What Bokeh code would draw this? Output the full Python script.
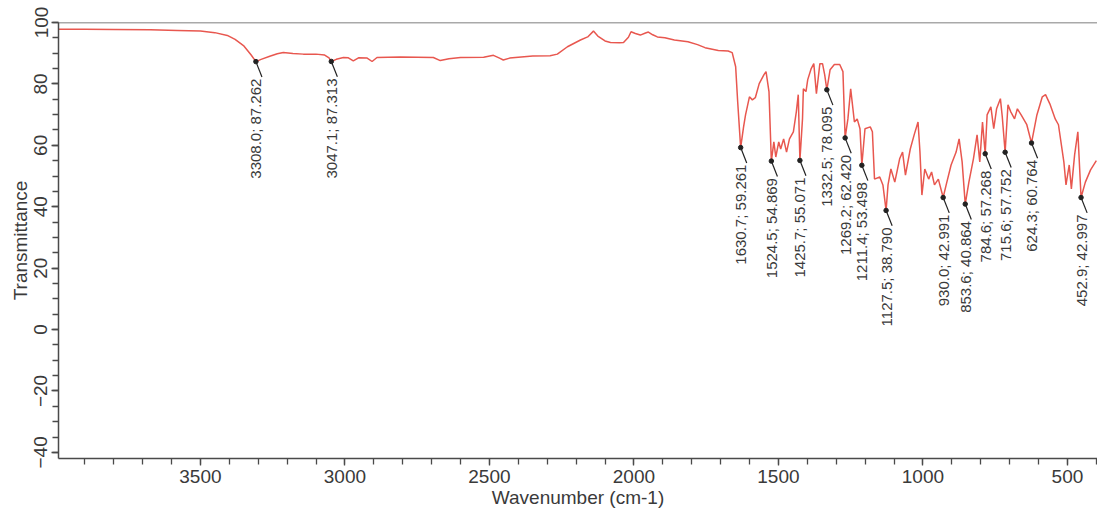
import numpy as np
from bokeh.plotting import figure
from bokeh.models import Range1d, FixedTicker, Span
from bokeh.embed import file_html
from bokeh.resources import INLINE
from bokeh.core.properties import value

# ---- spectrum (wavenumber in cm-1, transmittance in %) ----
wavenumber = [
    3990, 3900, 3800, 3673, 3580, 3500, 3450, 3407, 3380, 3351, 3325, 3308.0,
    3290, 3260, 3234, 3213, 3180, 3144, 3100, 3070, 3055, 3047.1, 3030, 3005,
    2988, 2971, 2953, 2923, 2906, 2889, 2850, 2808, 2750, 2694, 2670, 2640,
    2600, 2520, 2486, 2465, 2452, 2430, 2400, 2350, 2290, 2265, 2230, 2185,
    2160, 2140, 2125, 2100, 2081, 2050, 2036, 2019, 2010, 1995, 1978, 1960,
    1950, 1935, 1919, 1893, 1860, 1813, 1780, 1754, 1708, 1674, 1660, 1648,
    1641, 1630.7, 1620.6, 1613.8, 1600.3, 1590.2, 1580, 1566.5, 1550, 1542.9,
    1532.7, 1524.5, 1515.8, 1509.1, 1498.9, 1492.2, 1482, 1471.9, 1461.8,
    1448.3, 1438.1, 1431.4, 1425.7, 1416.7, 1413.7, 1404.7, 1398.6, 1386.6,
    1377.6, 1368.6, 1356.6, 1347.5, 1340, 1332.5, 1321.3, 1306.5, 1287.9,
    1276.8, 1269.2, 1259.6, 1250, 1237.1, 1227.5, 1217.8, 1211.4, 1200.5,
    1182.2, 1174.9, 1167.6, 1149.4, 1138.5, 1127.5, 1120.8, 1110.8, 1097.4,
    1080.6, 1070.5, 1060.5, 1043.8, 1030.4, 1017, 1010.3, 1003.6, 993.6,
    980.2, 970.1, 960.1, 946.7, 930.0, 919.6, 902.6, 885.2, 874.8, 864.4,
    853.6, 841.0, 825.3, 812.7, 803.3, 793.9, 784.6, 778.0, 764.9, 755.0,
    745.2, 732.0, 725.5, 715.6, 705.8, 696.0, 683.0, 673.2, 660.2, 640.6,
    624.3, 605.7, 587.0, 575.8, 560.9, 542.3, 531.1, 512.4, 505.0, 493.8,
    486.4, 475.2, 464.0, 452.9, 438.0, 420, 400,
]
transmittance = [
    97.8, 97.8, 97.7, 97.6, 97.4, 97.2, 96.7, 95.8, 94.5, 92.5, 89.5, 87.262,
    88.0, 89.0, 89.8, 90.2, 89.9, 89.7, 89.7, 89.4, 88.5, 87.313, 88.0, 88.6,
    88.5, 87.5, 88.5, 88.4, 87.3, 88.6, 88.7, 88.8, 88.7, 88.6, 87.6, 88.2,
    88.6, 88.7, 89.3, 88.4, 87.8, 88.4, 88.7, 89.1, 89.2, 89.7, 92.1, 94.3,
    95.3, 97.2, 95.6, 94.0, 93.5, 93.4, 93.5, 95.2, 97.0, 96.4, 95.9, 96.6,
    96.9, 96.0, 95.3, 95.0, 94.3, 93.7, 92.8, 91.8, 90.9, 90.7, 90.2, 85.6,
    74.2, 59.261, 66.0, 69.9, 75.8, 74.8, 75.5, 80.1, 83.0, 84.0,
    77.5, 54.869, 61.1, 56.2, 61.1, 58.8, 62.1, 57.8, 62.1,
    64.4, 70.9, 76.5, 55.071, 68.6, 78.4, 77.5, 81.4, 85.0,
    86.6, 76.8, 86.6, 86.6, 83.0, 78.095, 84.6, 86.3, 86.3,
    84.0, 62.420, 68.6, 78.4, 67.6, 68.6, 65.4, 53.498, 65.4,
    66.0, 64.4, 49.0, 49.7, 47.1, 38.790, 47.1, 52.3, 48.0,
    55.6, 57.8, 50.3, 58.8, 63.4, 67.6, 57.8, 43.8, 52.3,
    49.0, 51.3, 47.1, 49.0, 42.991, 47.1, 53.6, 57.8, 62.1, 54.6,
    40.864, 48.0, 55.6, 63.4, 54.6, 67.6, 57.268, 69.9, 72.5, 65.4,
    71.9, 75.2, 69.3, 57.752, 73.2, 70.9, 68.6, 71.9, 69.9, 66.7,
    60.764, 69.9, 75.8, 76.5, 73.5, 68.6, 66.7, 54.6, 47.1, 53.6,
    45.8, 56.9, 64.4, 42.997, 48.0, 52.0, 55.0,
]

# ---- picked peaks ----
peak_wn = [3308.0, 3047.1, 1630.7, 1524.5, 1425.7, 1332.5, 1269.2, 1211.4,
           1127.5, 930.0, 853.6, 784.6, 715.6, 624.3, 452.9]
peak_T = [87.262, 87.313, 59.261, 54.869, 55.071, 78.095, 62.420, 53.498,
          38.790, 42.991, 40.864, 57.268, 57.752, 60.764, 42.997]
peak_labels = [f"{w:.1f}; {t:.3f}" for w, t in zip(peak_wn, peak_T)]

# ---- axis ticks ----
x_major = [3500, 3000, 2500, 2000, 1500, 1000, 500]
x_minor = list(range(3900, 399, -100))
y_major = [-40, -20, 0, 20, 40, 60, 80, 100]
y_minor = list(range(-40, 101, 5))

FONT = "Liberation Sans"
TXT = "#3a3a3a"
AX = "#4a4a4a"

p = figure(width=1097, height=510,
           x_range=Range1d(3991, 396), y_range=Range1d(-42, 100),
           output_backend="svg", toolbar_location=None,
           min_border_left=58, min_border_top=22, min_border_right=0,
           min_border_bottom=52)
p.background_fill_color = "white"
p.border_fill_color = "white"
p.outline_line_color = None
p.xgrid.visible = False
p.ygrid.visible = False

p.add_layout(Span(location=100, dimension="width", line_color="#555555",
                  line_width=1.5))

p.line(wavenumber, transmittance, line_color="#e8574f", line_width=1.5)

# leaders, markers, labels
lead_x1 = [w - 21 for w in peak_wn]
lead_y1 = [t - 5 for t in peak_T]
p.segment(x0=peak_wn, y0=peak_T, x1=lead_x1, y1=lead_y1,
          line_color="#222222", line_width=1.2)
p.scatter(peak_wn, peak_T, size=4.5, color="#222222")
p.text(x=peak_wn, y=peak_T, text=peak_labels, angle=np.pi / 2,
       text_align="right", text_baseline="middle", x_offset=0, y_offset=17,
       text_font=value(FONT), text_font_size="15px", text_color=TXT)

for ax in (p.xaxis[0], p.yaxis[0]):
    ax.axis_line_color = AX
    ax.axis_line_width = 1.5
    ax.major_tick_line_color = AX
    ax.minor_tick_line_color = AX
    ax.major_tick_line_width = 1.3
    ax.minor_tick_line_width = 1.3
    ax.major_tick_in = 0
    ax.major_tick_out = 7
    ax.minor_tick_in = 0
    ax.minor_tick_out = 6
    ax.major_label_text_font = FONT
    ax.major_label_text_font_size = "19px"
    ax.major_label_text_color = TXT
    ax.axis_label_text_font = FONT
    ax.axis_label_text_font_size = "19px"
    ax.axis_label_text_font_style = "normal"
    ax.axis_label_text_color = TXT
    ax.major_label_standoff = 4
    ax.axis_label_standoff = 1

p.xaxis.ticker = FixedTicker(ticks=x_major, minor_ticks=x_minor)
p.yaxis.ticker = FixedTicker(ticks=y_major, minor_ticks=y_minor)
p.yaxis.major_label_orientation = "vertical"
p.xaxis.axis_label = "Wavenumber (cm-1)"
p.yaxis.axis_label = "Transmittance"

open("out.html", "w").write(file_html(p, INLINE))
